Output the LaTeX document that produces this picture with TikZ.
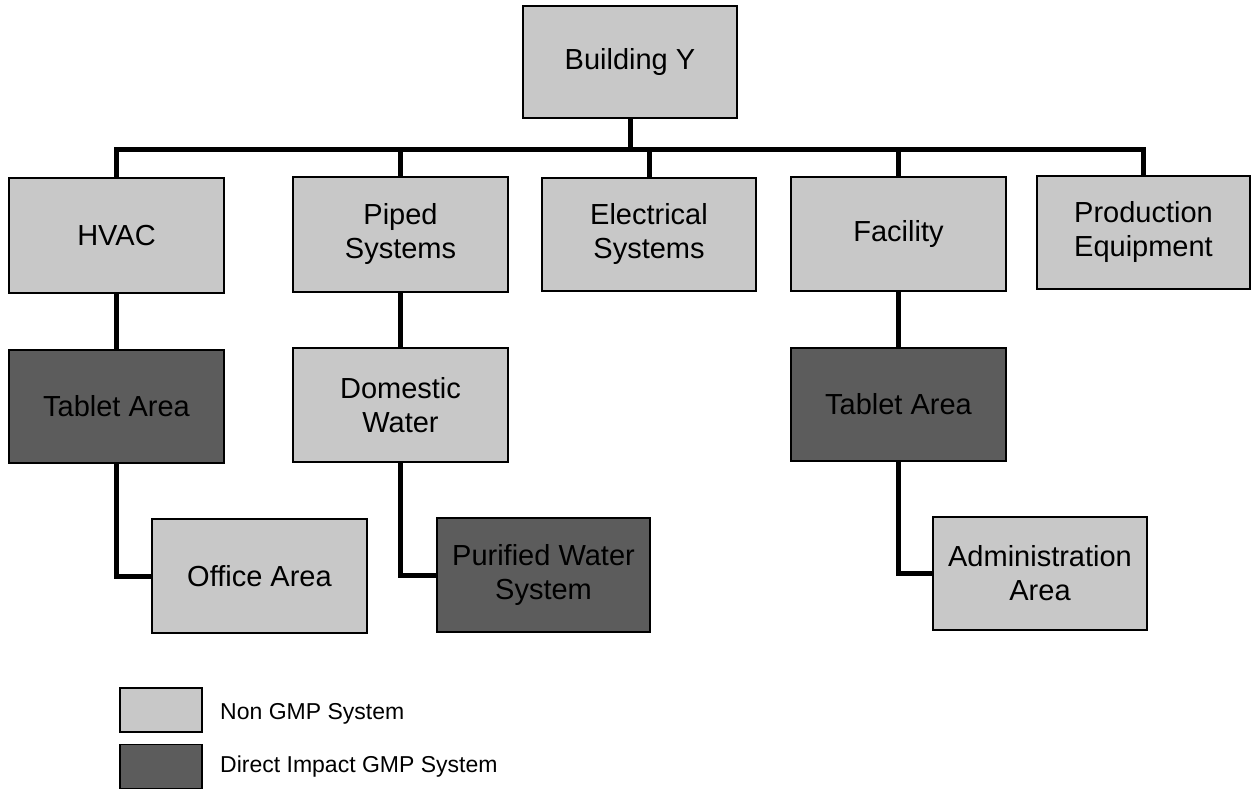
\documentclass[tikz,border=0pt]{standalone}
\usepackage{fontspec}
\setmainfont{Liberation Sans}
\definecolor{nongmp}{HTML}{C8C8C8}
\definecolor{gmp}{HTML}{5C5C5C}
\tikzset{
  sysbox/.style={draw=black, line width=2pt, align=center, inner sep=0pt,
    font=\fontsize{29}{34}\selectfont},
  light/.style={sysbox, fill=nongmp},
  dark/.style={sysbox, fill=gmp},
  link/.style={line width=5pt, draw=black},
  keybox/.style={draw=black, line width=1.2pt, minimum width=82pt, minimum height=44pt, inner sep=0pt},
  keytext/.style={anchor=base west, inner sep=0pt, font=\fontsize{23}{27}\selectfont}
}
\begin{document}
\begin{tikzpicture}[x=1pt, y=-1pt]
\useasboundingbox (0,0) rectangle (1254,789);

% top level
\node[light, minimum width=214pt, minimum height=112pt] (bldg) at (630,62) {Building Y};

% second level
\node[light, minimum width=215pt, minimum height=115pt] (hvac)  at (116.5,235.5) {HVAC};
\node[light, minimum width=215pt, minimum height=115pt] (piped) at (400.5,234.5) {Piped\\Systems};
\node[light, minimum width=214pt, minimum height=113pt] (elec)  at (649,234.5) {Electrical\\Systems};
\node[light, minimum width=215pt, minimum height=114pt] (fac)   at (898.5,234) {Facility};
\node[light, minimum width=213pt, minimum height=113pt] (prod)  at (1143.5,232.5) {Production\\Equipment};

% third level
\node[dark,  minimum width=215pt, minimum height=113pt] (tabA) at (116.5,406) {Tablet Area};
\node[light, minimum width=215pt, minimum height=114pt] (dom)  at (400.5,405) {Domestic\\Water};
\node[dark,  minimum width=215pt, minimum height=113pt] (tabB) at (898.5,404) {Tablet Area};

% fourth level
\node[light, minimum width=215pt, minimum height=114pt] (office) at (259.5,576) {Office Area};
\node[dark,  minimum width=213pt, minimum height=114pt] (pure)   at (543.5,575) {Purified Water\\System};
\node[light, minimum width=214pt, minimum height=113pt] (admin)  at (1040,573.5) {Administration\\Area};

% bus connecting the top level to the second level
\coordinate (bus) at (0,150);
\draw[link] (bldg.south) -- (bldg.south |- bus);
\draw[link] (hvac.north) -- (hvac.north |- bus) -- (prod.north |- bus) -- (prod.north);
\draw[link] (piped.north) -- (piped.north |- bus);
\draw[link] (elec.north) -- (elec.north |- bus);
\draw[link] (fac.north) -- (fac.north |- bus);

% lower branches
\draw[link] (hvac.south) -- (tabA.north);
\draw[link] (piped.south) -- (dom.north);
\draw[link] (fac.south) -- (tabB.north);
\draw[link] (tabA.south) |- (office.west);
\draw[link] (dom.south) |- (pure.west);
\draw[link] (tabB.south) |- (admin.west);

% legend
\node[keybox, fill=nongmp] (keyA) at (161,710) {};
\node[keybox, fill=gmp]    (keyB) at (161,766.5) {};
\node[keytext] (keyAtext) at (220,719) {Non GMP System};
\node[keytext] (keyBtext) at (220,772) {Direct Impact GMP System};
\end{tikzpicture}
\end{document}
